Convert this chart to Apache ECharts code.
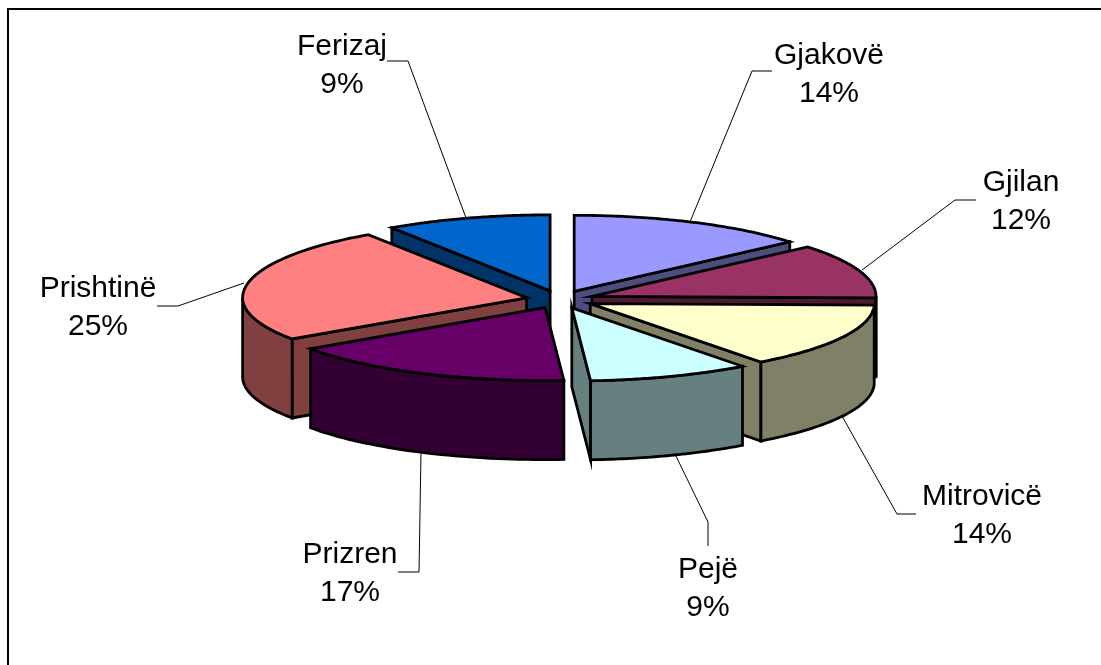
<!DOCTYPE html>
<html>
<head>
<meta charset="utf-8">
<title>Pie</title>
<script src="https://cdn.jsdelivr.net/npm/echarts@6/dist/echarts.min.js"></script>
<style>
  html, body { margin: 0; padding: 0; background: #fff; }
  #chart { width: 1101px; height: 665px; }
</style>
</head>
<body>
<div id="chart"></div>
<script>
// data, clockwise from 12 o'clock
const categories = ['Gjakovë', 'Gjilan', 'Mitrovicë', 'Pejë', 'Prizren', 'Prishtinë', 'Ferizaj'];
const values = [13.7, 11.6, 14.4, 9.2, 16.5, 25.1, 9.4];

// slice colours
const topColors = ['#9999FF', '#993366', '#FFFFCC', '#CCFFFF', '#660066', '#FF8080', '#0066CC'];
const wallColors = ['#4D4D80', '#4D1A33', '#808066', '#668080', '#330033', '#804040', '#003366'];

// label layout: centre of the two text lines, then the leader polyline
const labelCenters = [[829, 75], [1021, 202], [982, 516], [708, 589], [350, 574], [98, 308], [342, 66]];
const leaders = [
  [[772, 71], [752, 71], [690, 222]],
  [[976, 200], [955, 200], [862, 270]],
  [[916, 514], [897, 514], [842, 416]],
  [[708, 546], [708, 522], [675, 454]],
  [[398, 572], [419, 572], [421, 452]],
  [[157, 306], [178, 306], [244, 283]],
  [[387, 61], [408, 61], [466, 218]]
];

// projection of the tilted pie, the front half looks a bit flatter than the back
const CX = 560, CY = 299.5, RX = 284, RY_BACK = 76, RY_FRONT = 73, DEPTH = 79;
const EXPLODE_X = 34, EXPLODE_Y = 9;
const FONT = 'Liberation Sans, Arial, sans-serif';
const FONT_SIZE = 30;

const total = values.reduce((a, b) => a + b, 0);
const toRad = Math.PI / 180;

// start and end angle of each slice, degrees clockwise from the top
let acc = 0;
const angles = values.map(v => {
  const a = [acc / total * 360, (acc + v) / total * 360];
  acc += v;
  return a;
});

// back slices get painted first
const drawOrder = categories.map((c, i) => i).sort((a, b) => {
  const mid = i => (angles[i][0] + angles[i][1]) / 2 * toRad;
  return Math.cos(mid(b)) - Math.cos(mid(a));
});

function renderSlice(params, api) {
  const i = api.value(0);
  const [start, end] = angles[i];
  const mid = (start + end) / 2 * toRad;
  const ox = CX + EXPLODE_X * Math.sin(mid);
  const oy = CY - EXPLODE_Y * Math.cos(mid);
  const rim = deg => {
    const c = Math.cos(deg * toRad);
    return [ox + RX * Math.sin(deg * toRad), oy - (c > 0 ? RY_BACK : RY_FRONT) * c];
  };
  const down = p => [p[0], p[1] + DEPTH];
  const lineStyle = fill => ({ fill: fill, stroke: '#000', lineWidth: 2.8, lineJoin: 'miter' });
  const children = [];

  // cut faces, only those turned towards the viewer
  [[start, Math.sin(start * toRad) < -1e-6], [end, Math.sin(end * toRad) > 1e-6]].forEach(f => {
    if (!f[1]) return;
    const p = rim(f[0]);
    children.push({
      type: 'polygon',
      shape: { points: [[ox, oy], p, down(p), [ox, oy + DEPTH]] },
      style: lineStyle(wallColors[i])
    });
  });

  // outer wall, front half of the ellipse only
  const a0 = Math.max(start, 90), a1 = Math.min(end, 270);
  if (a1 > a0) {
    const arc = [];
    for (let a = a0; a <= a1 + 1e-6; a += (a1 - a0) / 40) arc.push(rim(a));
    children.push({
      type: 'polygon',
      shape: { points: arc.concat(arc.map(down).reverse()) },
      style: lineStyle(wallColors[i])
    });
  }

  // top face
  const top = [[ox, oy]];
  for (let a = start; a <= end + 1e-6; a += (end - start) / 60) top.push(rim(a));
  children.push({ type: 'polygon', shape: { points: top }, style: lineStyle(topColors[i]) });

  return { type: 'group', children: children };
}

function renderLabel(params, api) {
  const i = api.value(0);
  const c = labelCenters[i];
  const pct = Math.round(api.value(1) / total * 100) + '%';
  return {
    type: 'group',
    children: [
      {
        type: 'polyline',
        shape: { points: leaders[i] },
        style: { fill: null, stroke: '#000', lineWidth: 1 }
      },
      {
        type: 'text',
        style: {
          x: c[0], y: c[1],
          text: categories[i] + '\n' + pct,
          align: 'center', verticalAlign: 'middle',
          font: FONT_SIZE + 'px ' + FONT,
          lineHeight: 38,
          fill: '#000'
        }
      }
    ]
  };
}

const chart = echarts.init(document.getElementById('chart'), null, { renderer: 'canvas' });

chart.setOption({
  backgroundColor: '#ffffff',
  animation: false,
  graphic: [{
    type: 'polyline',
    silent: true,
    shape: { points: [[8, 670], [8, 9], [1106, 9]] },
    style: { fill: null, stroke: '#000', lineWidth: 2 }
  }],
  series: [
    {
      type: 'custom',
      name: 'labels',
      coordinateSystem: 'none',
      silent: true,
      renderItem: renderLabel,
      data: values.map((v, i) => [i, v])
    },
    {
      type: 'custom',
      name: 'slices',
      coordinateSystem: 'none',
      silent: true,
      renderItem: renderSlice,
      data: drawOrder.map(i => [i, values[i]])
    }
  ]
});
</script>
</body>
</html>
